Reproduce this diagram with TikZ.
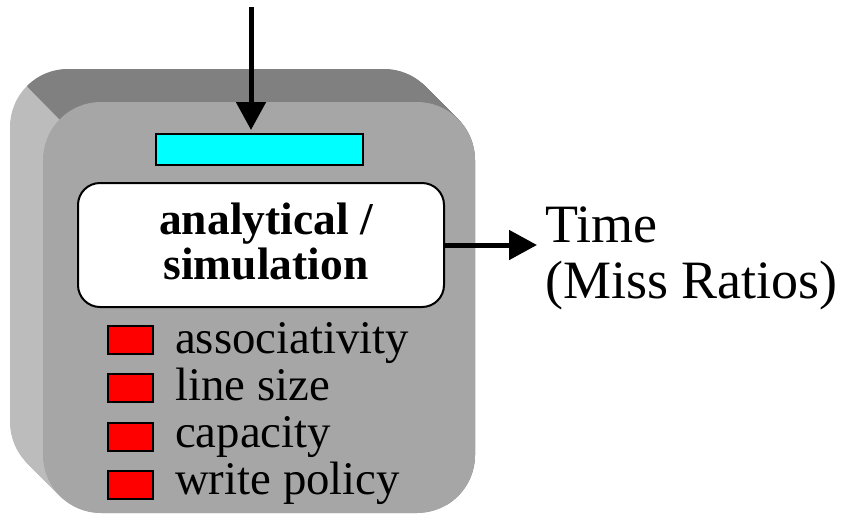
\documentclass[tikz,border=0pt]{standalone}
\usepackage{fontspec}
\setmainfont{Liberation Serif}
\usetikzlibrary{arrows.meta,positioning}
\definecolor{frontgray}{RGB}{166,166,166}
\definecolor{topgray}{RGB}{128,128,128}
\definecolor{sidegray}{RGB}{188,188,188}
\definecolor{cachecyan}{RGB}{0,255,255}
\definecolor{paramred}{RGB}{255,0,0}

\begin{document}
\begin{tikzpicture}[x=1pt,y=-1pt,>={Triangle[length=28pt,width=29pt]},box/.style={rounded corners=58pt}]
\tikzstyle{cache} = [draw=black, fill=cachecyan, line width=2pt, minimum width=207pt, minimum height=31pt, inner sep=0pt]
\tikzstyle{model} = [draw=black, fill=white, line width=2pt, rounded corners=22pt, minimum width=366pt, minimum height=124pt, inner sep=0pt]
\tikzstyle{modeltext} = [align=center, inner sep=0pt, font=\fontsize{45.5}{45}\selectfont\bfseries]
\tikzstyle{param} = [draw=black, fill=paramred, line width=2pt, minimum width=45pt, minimum height=28pt, inner sep=0pt]
\tikzstyle{paramtext} = [anchor=base west, inner sep=0pt, font=\fontsize{46.8}{47}\selectfont]
\tikzstyle{result} = [anchor=base west, inner sep=4pt, font=\fontsize{54}{54}\selectfont]
\tikzstyle{arrow} = [line width=5pt,->]

\useasboundingbox (0,0) rectangle (851,515);

\foreach \d in {0,1,...,33}
    \fill[sidegray,box] (10+\d,69+\d) rectangle (442+\d,480+\d);
\begin{scope}
\clip (-200,-141) -- (700,759) -- (700,-200) -- (-200,-200) -- cycle;
\foreach \d in {0,1,...,33}
    \fill[topgray,box] (10+\d,69+\d) rectangle (442+\d,480+\d);
\end{scope}
\fill[frontgray,box] (43,102) rectangle (475,513);

\node (cache) at (259.5,149.5) [cache] {};
\node (model) at (261,245) [model] {};
\node (mtext) at (266,241) [modeltext] {analytical /\\simulation};

\foreach \txt [count=\i from 0] in {associativity,line size,capacity,write policy} {
    \node (p\i) at (130.5,340+48.3*\i) [param] {};
    \node (t\i) at (175,353+47*\i) [paramtext] {\txt};
}

\node (time) at (541,242) [result] {Time};
\node (miss) at (541,298) [result] {(Miss Ratios)};

\coordinate (in) at (251,7);
\draw[arrow,shorten >=3pt] (in) -- (in |- cache.north);
\draw[arrow,shorten >=4pt] (model.east) -- (model.east -| time.west);

\end{tikzpicture}
\end{document}
